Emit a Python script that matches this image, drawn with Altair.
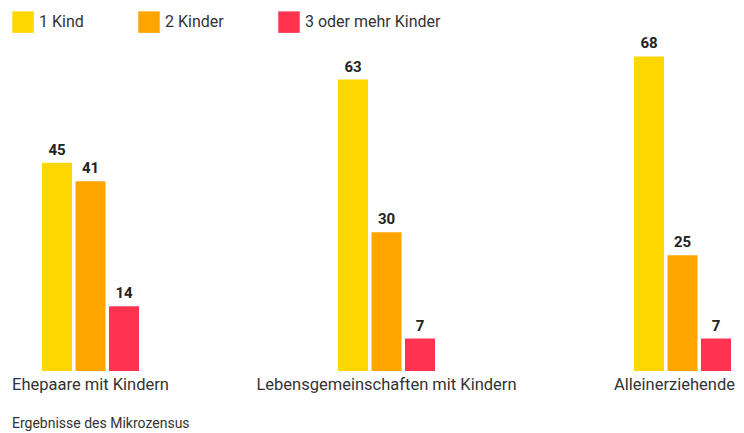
import altair as alt
import pandas as pd

groups = ["Ehepaare mit Kindern", "Lebensgemeinschaften mit Kindern", "Alleinerziehende"]
series = ["1 Kind", "2 Kinder", "3 oder mehr Kinder"]
values_1 = [45, 63, 68]
values_2 = [41, 30, 25]
values_3 = [14, 7, 7]
colors = ["#FFD700", "#FFA500", "#FF334F"]
footer = "Ergebnisse des Mikrozensus"

rows = []
for s, vals in zip(series, [values_1, values_2, values_3]):
    for g, v in zip(groups, vals):
        rows.append({"Gruppe": g, "Kinder": s, "Anteil": v})
df = pd.DataFrame(rows)

FONT = "Roboto"

x = alt.X("Gruppe:N", sort=groups,
          scale=alt.Scale(range=[34, 723], paddingInner=0.6723, paddingOuter=0),
          axis=alt.Axis(title=None, labelAngle=0, ticks=False, domain=False,
                        labelFontSize=16.5, labelColor="#333333", labelFont=FONT,
                        labelPadding=5, labelLimit=0,
                        labelOffset={"condition": {"test": "datum.value === 'Alleinerziehende'",
                                                   "value": -8}, "value": 0}))
xo = alt.XOffset("Kinder:N", sort=series,
                 scale=alt.Scale(paddingInner=0.104, paddingOuter=0))
y = alt.Y("Anteil:Q", scale=alt.Scale(domain=[0, 75]), axis=None)

base = alt.Chart(df).encode(x=x, xOffset=xo, y=y)

bars = base.mark_bar().encode(
    color=alt.Color("Kinder:N", sort=series,
                    scale=alt.Scale(domain=series, range=colors),
                    legend=alt.Legend(title=None, orient="none", direction="horizontal",
                                      legendX=4, legendY=-13, symbolType="square",
                                      symbolSize=462, symbolStrokeWidth=0,
                                      symbolOpacity=1,
                                      labelFontSize=16, labelColor="#333333",
                                      labelFont=FONT, labelOffset=5,
                                      columnPadding=54, padding=0))
)
labels = base.mark_text(baseline="bottom", dy=-5, fontSize=15, fontWeight="bold",
                        font=FONT, color="#222222").encode(text="Anteil:Q")

chart = alt.layer(bars, labels).properties(
    width=728, height=347,
    autosize=alt.AutoSizeParams(type="none"),
    padding={"left": 0, "top": 16, "right": 0, "bottom": 60},
    title=alt.TitleParams(footer, orient="bottom", anchor="start", fontSize=14,
                          fontWeight="normal", font=FONT, color="#333333",
                          offset=24, dx=4),
).configure_view(stroke=None)

chart.save("out.html", embed_options={"renderer": "svg", "actions": False})
